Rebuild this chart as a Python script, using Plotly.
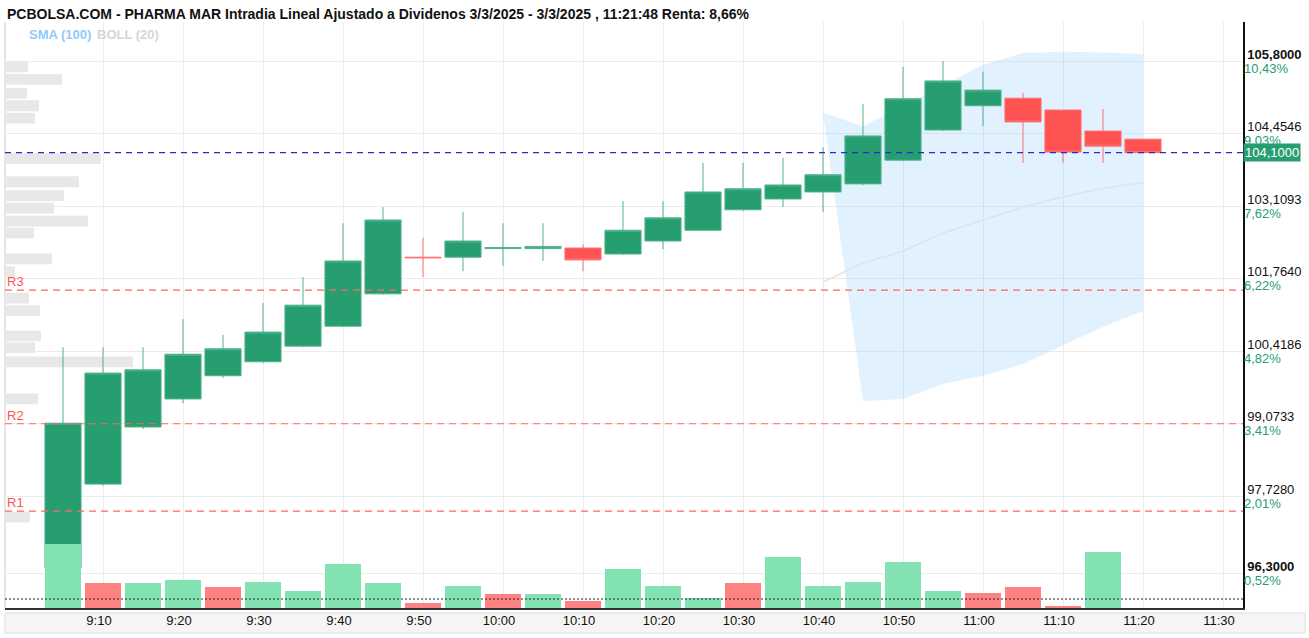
import plotly.graph_objects as go

# ---------------- data ----------------
times = ["09:05", "09:10", "09:15", "09:20", "09:25", "09:30", "09:35", "09:40",
         "09:45", "09:50", "09:55", "10:00", "10:05", "10:10", "10:15", "10:20",
         "10:25", "10:30", "10:35", "10:40", "10:45", "10:50", "10:55", "11:00",
         "11:05", "11:10", "11:15", "11:20"]
opens = [96.40, 97.95, 99.01, 99.53, 99.96, 100.22, 100.51, 100.88, 101.48, 102.16,
         102.16, 102.32, 102.32, 102.33, 102.22, 102.46, 102.66, 103.04, 103.24, 103.37,
         103.52, 103.96, 104.52, 104.97, 105.11, 104.89, 104.50, 104.35]
highs = [100.49, 100.49, 100.49, 101.01, 100.72, 101.31, 101.79, 102.79, 103.09, 102.52,
         103.00, 102.79, 102.79, 102.40, 103.20, 103.20, 103.91, 103.91, 104.00, 104.20,
         105.00, 105.69, 105.80, 105.60, 105.21, 104.89, 104.91, 104.35]
lows = [96.30, 97.92, 98.97, 99.45, 99.92, 100.20, 100.49, 100.87, 101.46, 101.79,
        101.90, 102.00, 102.09, 101.90, 102.20, 102.31, 102.65, 103.02, 103.09, 103.00,
        103.50, 103.94, 104.50, 104.59, 103.91, 103.91, 103.91, 104.10]
closes = [99.08, 100.01, 100.07, 100.36, 100.46, 100.77, 101.27, 102.09, 102.85, 102.15,
          102.46, 102.34, 102.36, 102.11, 102.66, 102.89, 103.37, 103.43, 103.50, 103.69,
          104.41, 105.10, 105.43, 105.26, 104.67, 104.11, 104.22, 104.10]
volumes = [64, 25, 25, 28, 21, 26, 17, 44, 25, 5, 22, 14, 14, 7, 39, 22, 10, 25, 51,
           22, 26, 46, 17, 15, 21, 2, 56, 0]
volume_up = [1, 0, 1, 1, 0, 1, 1, 1, 1, 0, 1, 0, 1, 0, 1, 1, 1, 0, 1, 1, 1, 1, 1, 0,
             0, 0, 1, 1]
volume_ref = 9

band_upper_times = ["10:40", "10:45", "10:50", "10:55", "11:00", "11:05", "11:10", "11:15", "11:20"]
band_upper = [104.84, 104.59, 104.97, 105.35, 105.73, 105.95, 105.97, 105.96, 105.93]
band_lower_times = ["10:45", "10:50", "10:55", "11:00", "11:05", "11:10", "11:15", "11:20"]
band_lower = [99.49, 99.53, 99.81, 99.96, 100.18, 100.53, 100.87, 101.16]
mid_times = ["10:40", "10:45", "10:50", "10:55", "11:00", "11:05", "11:10", "11:15", "11:20"]
mid_line = [101.70, 102.05, 102.27, 102.61, 102.85, 103.09, 103.28, 103.44, 103.54]

profile_prices = [105.69, 105.46, 105.20, 104.97, 104.74, 103.99, 103.56, 103.30, 103.07,
                  102.83, 102.61, 102.13, 101.89, 101.40, 101.17, 100.70, 100.48, 100.22,
                  99.53, 97.34]
profile_volumes = [23, 57, 22, 34, 30, 96, 74, 59, 49, 83, 29, 47, 10, 24, 35, 36, 30,
                   128, 33, 25]

price_ticks = [105.8, 104.4546, 103.1093, 101.7640, 100.4186, 99.0733, 97.7280, 96.3]
price_tick_text = ["<b>105,8000</b>", "104,4546", "103,1093", "101,7640", "100,4186",
                   "99,0733", "97,7280", "<b>96,3000</b>"]
pct_tick_text = ["10,43%", "9,03%", "7,62%", "6,22%", "4,82%", "3,41%", "2,01%", "0,52%"]

x_tick_times = ["09:10", "09:20", "09:30", "09:40", "09:50", "10:00", "10:10", "10:20",
                "10:30", "10:40", "10:50", "11:00", "11:10", "11:20", "11:30"]
x_tick_text = ["9:10", "9:20", "9:30", "9:40", "9:50", "10:00", "10:10", "10:20",
               "10:30", "10:40", "10:50", "11:00", "11:10", "11:20", "11:30"]

levels = {"R3": 101.55, "R2": 99.07, "R1": 97.45}
last_price = 104.10
last_price_text = "104,1000"
title_text = ("PCBOLSA.COM - PHARMA MAR Intradia Lineal Ajustado a Dividenos "
              "3/3/2025 - 3/3/2025 , 11:21:48 Renta: 8,66%")

DAY = "2025-03-03 "
def ts(t):
    return DAY + t + ":00"

T = [ts(t) for t in times]

# ---------------- style ----------------
GREEN = "#279e70"
GREEN_LINE = "#4fb38b"
RED = "#ff5252"
RED_LINE = "#ff7070"
VOL_GREEN = "#82e2b1"
VOL_RED = "#ff8282"
GRID = "#ececec"
Y_RANGE = [95.6517, 106.5236]
X_RANGE = [DAY + "08:57:45", DAY + "11:32:30"]
FONT = "Liberation Sans, Arial, sans-serif"

fig = go.Figure()

# volume profile (base subplot x/y)
fig.add_trace(go.Bar(
    x=profile_volumes, y=profile_prices, orientation="h", width=0.2,
    marker=dict(color="#e8e8e8", line=dict(width=0)),
    xaxis="x", yaxis="y", hoverinfo="skip", showlegend=False))

# bollinger band (x2/y)
fig.add_trace(go.Scatter(
    x=[ts(t) for t in band_upper_times], y=band_upper, mode="lines",
    line=dict(width=0, color="rgba(0,0,0,0)"), xaxis="x2", yaxis="y",
    hoverinfo="skip", showlegend=False))
fig.add_trace(go.Scatter(
    x=[ts(t) for t in band_lower_times], y=band_lower, mode="lines",
    line=dict(width=0, color="rgba(0,0,0,0)"), fill="tonexty",
    fillcolor="rgba(144,202,249,0.27)", xaxis="x2", yaxis="y",
    hoverinfo="skip", showlegend=False))

# candles (x2/y2, same scale as y)
fig.add_trace(go.Candlestick(
    x=T, open=opens, high=highs, low=lows, close=closes,
    increasing=dict(fillcolor=GREEN, line=dict(color=GREEN_LINE, width=1)),
    decreasing=dict(fillcolor=RED, line=dict(color=RED_LINE, width=1)),
    whiskerwidth=0, xaxis="x2", yaxis="y2", showlegend=False, hoverinfo="skip"))

# middle line (x2/y3, percent axis with the same scale)
fig.add_trace(go.Scatter(
    x=[ts(t) for t in mid_times], y=mid_line, mode="lines",
    line=dict(color="#e2e2e2", width=1.5), xaxis="x2", yaxis="y3",
    hoverinfo="skip", showlegend=False))

# volume (x2/y4)
fig.add_trace(go.Bar(
    x=T, y=volumes, width=270000,
    marker=dict(color=[VOL_GREEN if u else VOL_RED for u in volume_up],
                line=dict(width=0)),
    xaxis="x2", yaxis="y4", hoverinfo="skip", showlegend=False))

shapes = []
annotations = []
for name, val in levels.items():
    shapes.append(dict(type="line", xref="paper", x0=0, x1=1, yref="y", y0=val, y1=val,
                       line=dict(color="#ff6666", width=1.2, dash="7px,5px")))
    annotations.append(dict(text=name, xref="paper", x=0, xanchor="left", yref="y", y=val,
                            yanchor="bottom", showarrow=False, yshift=-1,
                            font=dict(family=FONT, size=13, color="#ff5555")))
shapes.append(dict(type="line", xref="paper", x0=0, x1=1, yref="y", y0=last_price,
                   y1=last_price, line=dict(color="#2a2ad0", width=1.2, dash="6px,5px")))
shapes.append(dict(type="line", xref="paper", x0=0, x1=1, yref="y4", y0=volume_ref,
                   y1=volume_ref, line=dict(color="#222222", width=1, dash="2px,2px")))
# left frame line
shapes.append(dict(type="line", xref="paper", x0=0, x1=0, yref="paper", y0=0, y1=1,
                   line=dict(color="#dcdcdc", width=1.5), layer="below"))
# x label band
shapes.append(dict(type="rect", xref="paper", x0=0, x1=1.0501, yref="paper",
                   y0=-0.0085, y1=-0.0427, fillcolor="#f5f5f5",
                   line=dict(color="#dddddd", width=1), layer="below"))

annotations.append(dict(text=last_price_text, xref="paper", x=1, xanchor="left", xshift=0,
                        yref="y", y=last_price, yanchor="middle", showarrow=False,
                        bgcolor=GREEN, borderpad=1,
                        font=dict(family=FONT, size=13, color="white")))
annotations.append(dict(text="<b>" + title_text + "</b>", xref="paper", x=0, xanchor="left",
                        yref="paper", y=1.0137, yanchor="middle", showarrow=False,
                        font=dict(family=FONT, size=14, color="#111111")))
annotations.append(dict(text="<b>SMA (100)</b>", xref="paper", x=0.0178, xanchor="left",
                        yref="paper", y=0.9795, yanchor="middle", showarrow=False,
                        font=dict(family=FONT, size=13, color="#90caf9")))
annotations.append(dict(text="<b>BOLL (20)</b>", xref="paper", x=0.0727, xanchor="left",
                        yref="paper", y=0.9795, yanchor="middle", showarrow=False,
                        font=dict(family=FONT, size=13, color="#d6d6d6")))

fig.update_layout(
    width=1309, height=638,
    margin=dict(l=5, r=66, t=22, b=30),
    paper_bgcolor="white", plot_bgcolor="white",
    showlegend=False,
    boxgap=0.05, boxgroupgap=0.05,
    xaxis=dict(type="linear", range=[0, 1238], visible=False, fixedrange=True),
    xaxis2=dict(type="date", overlaying="x", anchor="y", side="bottom", range=X_RANGE,
                tickvals=[ts(t) for t in x_tick_times], ticktext=x_tick_text,
                ticklabelshift=-4,
                showgrid=True, gridcolor=GRID, gridwidth=1,
                showline=True, linecolor="#333333", linewidth=1.5,
                ticks="", tickfont=dict(family=FONT, size=13, color="#111111"),
                rangeslider=dict(visible=False)),
    yaxis=dict(range=Y_RANGE, side="right", anchor="x", tickvals=price_ticks,
               ticktext=price_tick_text, ticklabelshift=-7,
               showgrid=True, gridcolor=GRID, gridwidth=1, zeroline=False,
               showline=True, linecolor="#111111", linewidth=1.5, ticks="",
               tickfont=dict(family=FONT, size=13, color="#111111")),
    yaxis2=dict(range=Y_RANGE, overlaying="y", anchor="x2", visible=False),
    yaxis3=dict(range=Y_RANGE, overlaying="y", side="right", anchor="x2",
                tickvals=price_ticks, ticktext=pct_tick_text, ticklabelshift=7,
                showgrid=False, zeroline=False, showline=False, ticks="",
                tickfont=dict(family=FONT, size=13, color=GREEN)),
    yaxis4=dict(range=[0, 586], overlaying="y", anchor="x2", visible=False),
    shapes=shapes,
    annotations=annotations,
)

fig.write_html("out.html")
